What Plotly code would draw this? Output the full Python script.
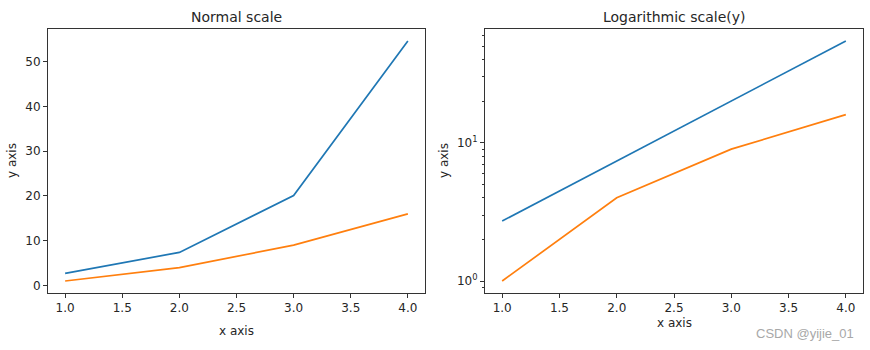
import math
import plotly.graph_objects as go

x_vals = [1.0, 2.0, 3.0, 4.0]
y_exp = [2.718, 7.389, 20.086, 54.598]
y_sq = [1.0, 4.0, 9.0, 16.0]
x_ticks = [1.0, 1.5, 2.0, 2.5, 3.0, 3.5, 4.0]
x_tick_text = ["1.0", "1.5", "2.0", "2.5", "3.0", "3.5", "4.0"]
y_ticks_lin = [0, 10, 20, 30, 40, 50]
y_ticks_log = [1, 10]
y_ticks_log_text = ["10<sup>0</sup>", "10<sup>1</sup>"]
y_minor_log = [0.9, 2, 3, 4, 5, 6, 7, 8, 9, 20, 30, 40, 50, 60]

W, H = 870, 350
BLUE = "#1f77b4"
ORANGE = "#ff7f0e"
FONT = "DejaVu Sans"
TXT = "#262626"

fig = go.Figure()
fig.add_trace(go.Scatter(x=x_vals, y=y_exp, mode="lines", line=dict(color=BLUE, width=1.7), xaxis="x", yaxis="y", showlegend=False))
fig.add_trace(go.Scatter(x=x_vals, y=y_sq, mode="lines", line=dict(color=ORANGE, width=1.7), xaxis="x", yaxis="y", showlegend=False))
fig.add_trace(go.Scatter(x=x_vals, y=y_exp, mode="lines", line=dict(color=BLUE, width=1.7), xaxis="x2", yaxis="y2", showlegend=False))
fig.add_trace(go.Scatter(x=x_vals, y=y_sq, mode="lines", line=dict(color=ORANGE, width=1.7), xaxis="x2", yaxis="y2", showlegend=False))

def px(v):
    return v / W

def py(v):
    return 1 - v / H

axis_common = dict(showline=True, linecolor="#333", linewidth=1, mirror=True,
                   ticks="outside", ticklen=4, tickcolor="#333", tickwidth=1,
                   showgrid=False, zeroline=False,
                   tickfont=dict(family=FONT, size=12, color=TXT))

x_span = 4.0 - 1.0
x_rng = [1.0 - 0.05 * x_span, 4.0 + 0.05 * x_span]
lin_span = max(y_exp) - min(y_sq)
y_rng_lin = [min(y_sq) - 0.05 * lin_span, max(y_exp) + 0.05 * lin_span]
lo, hi = math.log10(min(y_sq)), math.log10(max(y_exp))
y_rng_log = [lo - 0.05 * (hi - lo), hi + 0.05 * (hi - lo)]

fig.update_layout(
    width=W, height=H, margin=dict(l=0, r=0, t=0, b=0),
    paper_bgcolor="white", plot_bgcolor="white",
    xaxis=dict(domain=[px(48), px(425)], anchor="y", range=x_rng,
               tickvals=x_ticks, ticktext=x_tick_text, **axis_common),
    yaxis=dict(domain=[py(293), py(29)], anchor="x", range=y_rng_lin,
               tickvals=y_ticks_lin, **axis_common),
    xaxis2=dict(domain=[px(485), px(863)], anchor="y2", range=x_rng,
                tickvals=x_ticks, ticktext=x_tick_text, **axis_common),
    yaxis2=dict(domain=[py(293), py(29)], anchor="x2", type="log", range=y_rng_log,
                tickvals=y_ticks_log, ticktext=y_ticks_log_text,
                minor=dict(ticks="outside", ticklen=2, tickcolor="#333", tickvals=y_minor_log, showgrid=False),
                **axis_common),
    annotations=[
        dict(text="Normal scale", x=px(236.5), y=py(17), xref="paper", yref="paper", showarrow=False,
             font=dict(family=FONT, size=14, color=TXT), xanchor="center", yanchor="middle"),
        dict(text="Logarithmic scale(y)", x=px(674), y=py(17), xref="paper", yref="paper", showarrow=False,
             font=dict(family=FONT, size=14, color=TXT), xanchor="center", yanchor="middle"),
        dict(text="x axis", x=px(236.5), y=py(331), xref="paper", yref="paper", showarrow=False,
             font=dict(family=FONT, size=12, color=TXT), xanchor="center", yanchor="middle"),
        dict(text="x axis", x=px(674), y=py(323), xref="paper", yref="paper", showarrow=False,
             font=dict(family=FONT, size=12, color=TXT), xanchor="center", yanchor="middle"),
        dict(text="y axis", x=px(12), y=py(161), xref="paper", yref="paper", showarrow=False, textangle=-90,
             font=dict(family=FONT, size=12, color=TXT), xanchor="center", yanchor="middle"),
        dict(text="y axis", x=px(444), y=py(161), xref="paper", yref="paper", showarrow=False, textangle=-90,
             font=dict(family=FONT, size=12, color=TXT), xanchor="center", yanchor="middle"),
        dict(text="CSDN @yijie_01", x=px(856), y=py(333), xref="paper", yref="paper", showarrow=False,
             font=dict(family="Liberation Sans", size=13, color="#a8a8a8"), xanchor="right", yanchor="middle"),
    ],
)

fig.write_html("out.html")
